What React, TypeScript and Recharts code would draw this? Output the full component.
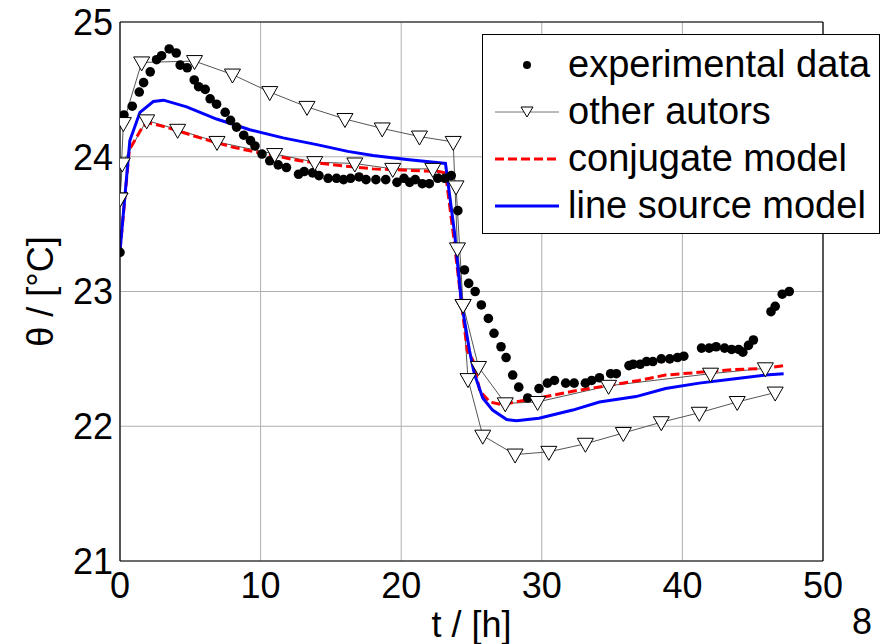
import {
  ComposedChart,
  Line,
  Scatter,
  XAxis,
  YAxis,
  CartesianGrid,
  ReferenceLine,
  Legend,
} from "recharts";

const FONT = '"Liberation Sans", Arial, sans-serif';

// experimental data (t in h, theta in °C)
const expT = [
  0, 0.28, 0.87, 1.37, 1.68, 2.15, 2.6, 2.96, 3.5, 4.0, 4.28, 4.78, 5.28, 5.59, 6.06, 6.41, 6.87,
  7.48, 7.86, 8.29, 8.8, 9.28, 9.6, 10.1, 10.65, 11.25, 11.84, 12.7, 13.1, 13.7, 14.15, 14.8, 15.4,
  15.9, 16.4, 17.0, 17.5, 18.2, 18.9, 19.7, 20.2, 20.6, 21.0, 21.5, 22.0, 22.6, 23.1, 23.56, 24.03,
  24.5, 24.8, 25.26, 25.7, 26.2, 26.6, 27.1, 27.46, 27.93, 28.36, 29.0, 29.8, 30.4, 30.9, 31.7,
  32.3, 33.1, 33.55, 34.1, 34.9, 35.3, 36.2, 36.5, 37.0, 37.45, 37.9, 38.5, 39.1, 39.65, 40.1,
  41.36, 41.9, 42.4, 43.0, 43.5, 44.0, 44.3, 44.7, 45.05, 46.3, 46.6, 47.1, 47.6,
];
const expTheta = [
  23.29, 24.31, 24.375, 24.48, 24.55, 24.63, 24.72, 24.75, 24.8, 24.77, 24.68, 24.66, 24.57, 24.52,
  24.5, 24.43, 24.39, 24.33, 24.27, 24.22, 24.16, 24.12, 24.08, 24.02, 23.97, 23.94, 23.92, 23.87,
  23.89, 23.88, 23.86, 23.84, 23.84, 23.83, 23.84, 23.85, 23.83, 23.83, 23.83, 23.81, 23.84, 23.81,
  23.83, 23.8, 23.8, 23.84, 23.84, 23.86, 23.6, 23.16, 23.06, 23.0, 22.9, 22.8, 22.69, 22.59, 22.51,
  22.38, 22.29, 22.21, 22.28, 22.32, 22.34, 22.32, 22.32, 22.32, 22.34, 22.36, 22.39, 22.39, 22.45,
  22.46, 22.46, 22.48, 22.48, 22.5, 22.5, 22.51, 22.52, 22.58, 22.58, 22.59, 22.58, 22.57, 22.57,
  22.55, 22.6, 22.64, 22.85, 22.89, 22.98, 23.0,
];

// other autors, two curves
const otherAT = [
  0, 0.24, 1.54, 5.3, 8.0, 10.65, 13.3, 16.0, 18.65, 21.3, 23.7, 24.0, 24.4, 24.75, 25.8, 28.1,
  30.5, 33.1, 35.8, 38.5, 41.2, 43.9, 46.6,
];
const otherATheta = [
  23.69, 24.25, 24.7, 24.71, 24.61, 24.48, 24.37, 24.28, 24.21, 24.15, 24.11, 23.32, 22.9, 22.35,
  21.93, 21.79, 21.81, 21.87, 21.95, 22.03, 22.1, 22.18, 22.25,
];
const otherBT = [
  0, 0.16, 1.9, 4.1, 6.9, 11.0, 13.85, 16.7, 19.4, 22.25, 23.9, 24.4, 25.5, 27.4, 29.7, 34.75, 42.0,
  45.9,
];
const otherBTheta = [
  23.69, 23.95, 24.27, 24.2, 24.11, 24.02, 23.96, 23.95, 23.91, 23.91, 23.78, 22.9, 22.44, 22.17,
  22.18, 22.3, 22.39, 22.43,
];

// conjugate model
const conjT = [
  0, 0.66, 1.65, 2.1, 3.3, 5.7, 8.05, 10.4, 12.8, 15.15, 18.0, 20.4, 22.7, 23.15, 23.7, 24.15, 24.7,
  25.1, 25.6, 26.3, 27.2, 28.6, 29.8, 32.2, 34.6, 36.9, 38.8, 41.2, 43.6, 45.9, 47.2,
];
const conjTheta = [
  23.3, 24.05, 24.23, 24.25, 24.22, 24.14, 24.07, 24.02, 23.97, 23.94, 23.91, 23.9, 23.89, 23.88,
  23.43, 23.03, 22.56, 22.49, 22.26, 22.18, 22.16, 22.19, 22.21, 22.26, 22.3, 22.34, 22.38, 22.4,
  22.42, 22.43, 22.45,
];

// line source model
const lineT = [
  0, 0.7, 1.42, 2.37, 3.1, 4.74, 6.87, 9.23, 11.6, 14.0, 16.2, 18.0, 20.4, 23.15, 23.8, 24.27,
  24.86, 25.2, 25.8, 26.5, 27.5, 28.2, 29.8, 32.2, 34.1, 36.7, 38.8, 41.2, 43.6, 45.9, 47.2,
];
const lineTheta = [
  23.3, 24.12, 24.33, 24.41, 24.42, 24.37, 24.28, 24.2, 24.14, 24.09, 24.04, 24.01, 23.98, 23.95,
  23.43, 22.93, 22.56, 22.39, 22.21, 22.12, 22.05, 22.04, 22.06, 22.12, 22.18, 22.22, 22.28, 22.32,
  22.35, 22.38, 22.39,
];

const xTicks = [0, 10, 20, 30, 40, 50];
const yTicks = [21, 22, 23, 24, 25];

const pts = (ts: number[], vs: number[]) => ts.map((t, i) => ({ t, v: vs[i] }));

const triangle = (cx: number, cy: number) =>
  `M${cx - 8},${cy - 5.5} L${cx + 8},${cy - 5.5} L${cx},${cy + 8.5} Z`;

const TriDot = (props: any) => {
  const { cx, cy, index } = props;
  if (cx == null || cy == null) return <g key={`t-${index}`} />;
  return (
    <path key={`t-${index}`} d={triangle(cx, cy)} fill="#fff" stroke="#000" strokeWidth={1} />
  );
};

const LegendBox = () => {
  const row = { display: "flex", alignItems: "center", height: 47 } as const;
  const label = { fontSize: 38, color: "#000", marginLeft: 9, whiteSpace: "nowrap" } as const;
  return (
    <div
      style={{
        boxSizing: "border-box",
        width: 398,
        height: 200,
        border: "1.5px solid #000",
        background: "#fff",
        padding: "6px 0 0 12px",
        fontFamily: FONT,
      }}
    >
      <div style={row}>
        <svg width={64} height={20}>
          <circle cx={32} cy={10} r={4} fill="#000" />
        </svg>
        <span style={label}>experimental data</span>
      </div>
      <div style={row}>
        <svg width={64} height={20}>
          <line x1={0} y1={10} x2={64} y2={10} stroke="#777" strokeWidth={1} />
          <path d="M26,5 L38,5 L32,15 Z" fill="#fff" stroke="#000" strokeWidth={1} />
        </svg>
        <span style={label}>other autors</span>
      </div>
      <div style={row}>
        <svg width={64} height={20}>
          <line x1={0} y1={10} x2={64} y2={10} stroke="#ff0000" strokeWidth={3} strokeDasharray="9 4" />
        </svg>
        <span style={label}>conjugate model</span>
      </div>
      <div style={row}>
        <svg width={64} height={20}>
          <line x1={0} y1={10} x2={64} y2={10} stroke="#0000ff" strokeWidth={3} />
        </svg>
        <span style={label}>line source model</span>
      </div>
    </div>
  );
};

const YLabel = (props: any) => {
  const { viewBox } = props;
  const x = viewBox.x + 40;
  const y = viewBox.y + viewBox.height / 2;
  return (
    <text
      x={x}
      y={y}
      transform={`rotate(-90 ${x} ${y})`}
      textAnchor="middle"
      dominantBaseline="central"
      fontSize={36}
      fontFamily={FONT}
      fill="#000"
    >
      θ / [°C]
    </text>
  );
};

const XLabel = (props: any) => {
  const { viewBox } = props;
  return (
    <text
      x={viewBox.x + viewBox.width / 2}
      y={624}
      textAnchor="middle"
      dominantBaseline="central"
      fontSize={36}
      fontFamily={FONT}
      fill="#000"
    >
      t / [h]
    </text>
  );
};

export default function App() {
  const tickStyle = { fontSize: 36, fill: "#000", fontFamily: FONT };
  return (
    <div style={{ position: "absolute", left: 0, top: 0, width: 883, height: 644, background: "#fff" }}>
      <ComposedChart
        width={883}
        height={644}
        margin={{ top: 22, right: 60, bottom: 0, left: 0 }}
        style={{ fontFamily: FONT }}
      >
        <CartesianGrid stroke="#b0b0b0" strokeWidth={1} />
        <XAxis
          type="number"
          dataKey="t"
          domain={[0, 50]}
          ticks={xTicks}
          allowDataOverflow
          height={83}
          tickSize={0}
          tickMargin={11}
          tick={tickStyle}
          axisLine={{ stroke: "#000", strokeWidth: 1.2 }}
          label={<XLabel />}
        />
        <YAxis
          type="number"
          dataKey="v"
          domain={[21, 25]}
          ticks={yTicks}
          allowDataOverflow
          width={120}
          tickSize={0}
          tickMargin={7}
          tick={tickStyle}
          axisLine={{ stroke: "#000", strokeWidth: 1.2 }}
          label={<YLabel />}
        />
        <ReferenceLine y={25} stroke="#000" strokeWidth={1.2} />
        <ReferenceLine x={50} stroke="#000" strokeWidth={1.2} />
        <Line
          data={pts(otherAT, otherATheta)}
          dataKey="v"
          type="linear"
          stroke="#555"
          strokeWidth={1}
          dot={TriDot}
          isAnimationActive={false}
        />
        <Line
          data={pts(otherBT, otherBTheta)}
          dataKey="v"
          type="linear"
          stroke="#555"
          strokeWidth={1}
          dot={TriDot}
          isAnimationActive={false}
        />
        <Line
          data={pts(conjT, conjTheta)}
          dataKey="v"
          type="linear"
          stroke="#ff0000"
          strokeWidth={3}
          strokeDasharray="9 4"
          dot={false}
          isAnimationActive={false}
        />
        <Line
          data={pts(lineT, lineTheta)}
          dataKey="v"
          type="linear"
          stroke="#0000ff"
          strokeWidth={3}
          dot={false}
          isAnimationActive={false}
        />
        <Scatter
          data={pts(expT, expTheta)}
          dataKey="v"
          fill="#000"
          isAnimationActive={false}
          shape={(p: any) => <circle cx={p.cx} cy={p.cy} r={4.8} fill="#000" />}
        />
        <Legend
          layout="vertical"
          align="center"
          verticalAlign="middle"
          wrapperStyle={{ left: 482, top: 34, width: 398, height: 200 }}
          content={() => <LegendBox />}
        />
      </ComposedChart>
      <div
        style={{
          position: "absolute",
          left: 852,
          top: 602,
          fontSize: 36,
          fontFamily: FONT,
          lineHeight: "40px",
          color: "#000",
        }}
      >
        8
      </div>
    </div>
  );
}
